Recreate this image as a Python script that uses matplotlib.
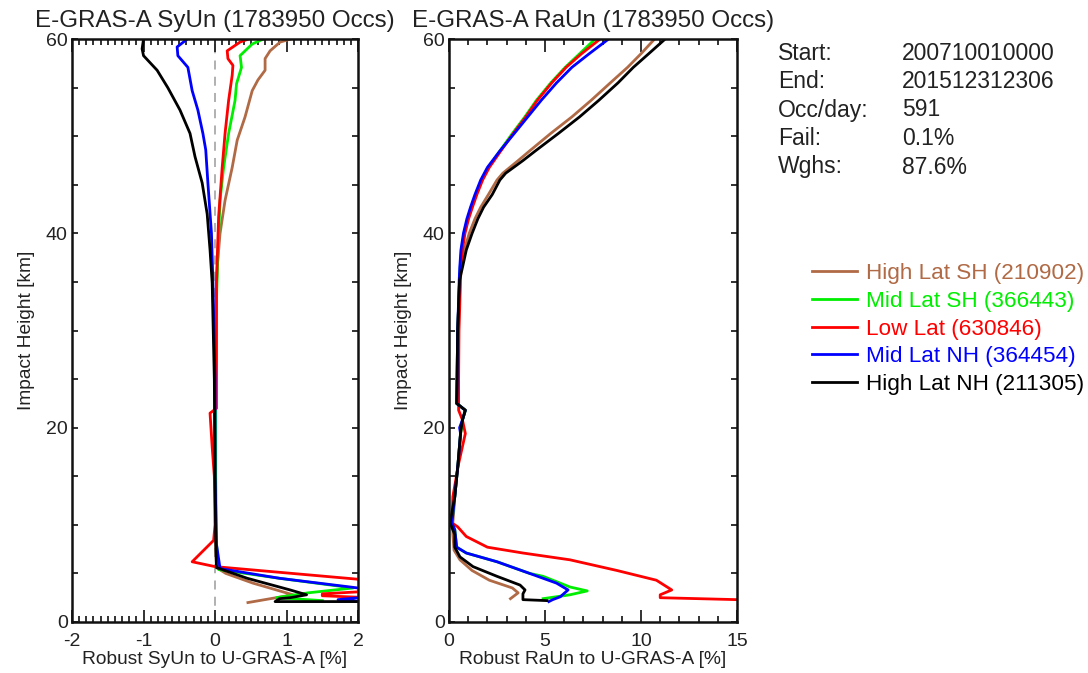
import matplotlib
matplotlib.use("Agg")
import matplotlib.pyplot as plt
from matplotlib.lines import Line2D
from matplotlib.ticker import MultipleLocator

plt.rcParams["font.family"] = ["Liberation Sans", "DejaVu Sans"]
plt.rcParams["axes.unicode_minus"] = False

names = ["High Lat SH", "Mid Lat SH", "Low Lat", "Mid Lat NH", "High Lat NH"]
counts = [210902, 366443, 630846, 364454, 211305]
colors = ["#b06a45", "#00ee00", "#ff0000", "#0000ff", "#000000"]

# SyUn profiles: (height km, value %)
syun_h = {
    "High Lat SH": [2.0, 2.8, 3.1, 4.0, 5.0, 5.6, 8, 15, 25, 33, 36.5, 40, 43.4, 46.8, 49.6, 52, 54.7, 55.8, 56.8, 58, 58.8, 59.7, 60],
    "Mid Lat SH": [2.2, 2.5, 3.0, 3.5, 4.5, 5.4, 8, 15, 25, 33, 38, 43.4, 46.8, 50.3, 53.7, 55.4, 57.1, 58.3, 59.5, 60],
    "Low Lat": [2.4, 2.7, 2.9, 3.5, 4.4, 5.7, 6.2, 8.4, 10, 15, 18, 21.5, 22, 25, 35, 41.7, 46.8, 50.3, 53.7, 56.3, 57.3, 58, 58.8, 59.7, 60],
    "Mid Lat NH": [2.0, 2.3, 2.7, 3.5, 4.5, 5.5, 8, 15, 25, 35, 40, 45.2, 48.6, 50.3, 52.7, 54.7, 57.1, 58.3, 59.2, 60],
    "High Lat NH": [2.1, 2.1, 2.4, 2.5, 2.8, 3.3, 4.5, 5.6, 8, 15, 25, 34.9, 38.3, 42, 45.2, 47.9, 50.3, 52.7, 55, 56.8, 58.3, 59, 60],
}
syun_v = {
    "High Lat SH": [0.46, 1.09, 0.95, 0.53, 0.15, 0.02, 0.01, 0.0, 0.0, 0.01, 0.03, 0.07, 0.14, 0.24, 0.31, 0.42, 0.52, 0.60, 0.70, 0.70, 0.77, 0.91, 1.05],
    "Mid Lat SH": [1.5, 0.86, 1.3, 1.93, 0.9, 0.05, 0.02, 0.01, 0.01, 0.02, 0.04, 0.07, 0.12, 0.19, 0.28, 0.30, 0.37, 0.35, 0.52, 0.67],
    "Low Lat": [2.5, 1.5, 1.5, 3.0, 2.0, 0.0, -0.32, -0.02, 0.0, -0.01, -0.04, -0.07, 0.02, 0.02, 0.02, 0.05, 0.10, 0.14, 0.19, 0.24, 0.25, 0.18, 0.17, 0.35, 0.46],
    "Mid Lat NH": [2.2, 1.72, 2.3, 2.0, 0.9, 0.07, 0.02, 0.0, 0.0, -0.03, -0.05, -0.10, -0.13, -0.17, -0.24, -0.32, -0.38, -0.52, -0.53, -0.39],
    "High Lat NH": [2.5, 0.84, 0.9, 1.05, 1.28, 1.05, 0.45, 0.02, 0.01, 0.0, -0.01, -0.04, -0.07, -0.11, -0.18, -0.28, -0.35, -0.49, -0.66, -0.81, -1.0, -1.02, -1.0],
}

# RaUn profiles: (height km, value %)
upper_h = [22.5, 25, 30, 35.2, 36.5, 38.3, 40, 41.5, 42.7, 44, 45.5, 46.8, 48.5, 50.3, 52, 53.7, 55.5, 57.1, 58.5, 60]
raun_h = {
    "High Lat SH": [2.4, 3.0, 3.5, 4.3, 5.3, 6.4, 7.4, 9, 10.2, 12.9, 16.3, 19.4, 20.8, 21.8,
                    22.5, 25, 30, 35.2, 36.5, 38.3, 40, 41.5, 42.7, 44, 45.5, 46.2, 47.5, 48.5, 50.3, 52, 53.7, 55.5, 57.1, 58.5, 60],
    "Mid Lat SH": [2.4, 2.8, 3.2, 3.6, 4.7, 5.0, 6.2, 7.1, 7.7, 9.5, 10.2, 12.9, 16.3, 19.4, 20.8, 21.8] + upper_h,
    "Low Lat": [2.3, 2.5, 2.8, 3.3, 4.3, 5.3, 6.4, 7.1, 7.7, 8.8, 9.8, 10.2, 12.9, 16.3, 19.4, 20.8, 21.8] + upper_h,
    "Mid Lat NH": [2.1, 2.3, 2.6, 3.3, 4.0, 5.0, 6.2, 7.1, 7.7, 9.5, 10.2, 12.9, 16.3, 19.4, 20.0, 20.8, 21.8] + upper_h,
    "High Lat NH": [2.2, 2.3, 2.9, 3.3, 3.8, 4.7, 5.7, 6.7, 7.7, 9, 10.2, 12.9, 16.3, 19.4, 20.8, 21.8,
                    22.5, 25, 30, 35.2, 36.5, 38.3, 40, 41.5, 42.7, 44, 45.5, 46.2, 47.5, 48.5, 50.3, 52, 53.7, 55.5, 57.1, 58.5, 60],
}
raun_v = {
    "High Lat SH": [3.2, 3.6, 3.3, 2.1, 1.2, 0.57, 0.26, 0.2, 0.2, 0.3, 0.47, 0.6, 0.7, 0.85,
                    0.4, 0.42, 0.45, 0.55, 0.62, 0.8, 1.05, 1.35, 1.65, 2.05, 2.5, 2.8, 3.6, 4.2, 5.3, 6.4, 7.4, 8.4, 9.3, 10.0, 10.7],
    "Mid Lat SH": [4.9, 6.3, 7.2, 6.3, 4.9, 4.2, 2.5, 0.9, 0.4, 0.3, 0.15, 0.3, 0.47, 0.6, 0.7, 0.85,
                   0.4, 0.42, 0.45, 0.55, 0.58, 0.65, 0.78, 0.98, 1.18, 1.4, 1.7, 2.05, 2.65, 3.3, 3.95, 4.55, 5.3, 6.05, 6.8, 7.6],
    "Low Lat": [15.0, 11.0, 11.0, 11.6, 10.8, 8.75, 6.3, 3.85, 2.0, 0.9, 0.45, 0.15, 0.2, 0.5, 0.85, 0.7, 0.5,
                0.5, 0.5, 0.52, 0.6, 0.62, 0.7, 0.83, 1.02, 1.22, 1.45, 1.75, 2.1, 2.7, 3.35, 4.0, 4.6, 5.35, 6.1, 6.9, 7.86],
    "Mid Lat NH": [5.2, 5.4, 5.8, 6.2, 5.6, 4.2, 2.5, 0.9, 0.4, 0.3, 0.15, 0.3, 0.47, 0.6, 0.55, 0.7, 0.85,
                   0.4, 0.42, 0.45, 0.53, 0.56, 0.62, 0.75, 0.93, 1.12, 1.35, 1.65, 2.0, 2.65, 3.4, 4.1, 4.8, 5.6, 6.4, 7.3, 8.3],
    "High Lat NH": [5.1, 3.85, 3.85, 3.96, 3.7, 2.5, 1.25, 0.57, 0.3, 0.3, 0.05, 0.3, 0.47, 0.6, 0.7, 0.85,
                    0.4, 0.42, 0.45, 0.55, 0.7, 0.9, 1.2, 1.5, 1.8, 2.25, 2.65, 2.95, 3.85, 4.5, 5.7, 6.8, 7.8, 8.8, 9.6, 10.4, 11.25],
}

stats_keys = ["Start:", "End:", "Occ/day:", "Fail:", "Wghs:"]
stats_vals = ["200710010000", "201512312306", "591", "0.1%", "87.6%"]

txt = "#222222"

fig = plt.figure(figsize=(10.88, 6.73), dpi=100)
ax1 = fig.add_axes([0.0662, 0.0758, 0.2629, 0.866])
ax2 = fig.add_axes([0.4127, 0.0758, 0.2647, 0.866])

ax1.axvline(0, color="#aaaaaa", lw=1.3, ls=(0, (5, 4)), zorder=1)
for name, c in zip(names, colors):
    ax1.plot(syun_v[name], syun_h[name], color=c, lw=2, zorder=2)
    ax2.plot(raun_v[name], raun_h[name], color=c, lw=2, zorder=2)

ax1.set_xlim(-2, 2)
ax2.set_xlim(0, 15)
for ax in (ax1, ax2):
    ax.set_ylim(0, 60)
    ax.yaxis.set_major_locator(MultipleLocator(20))
    ax.yaxis.set_minor_locator(MultipleLocator(5))
    ax.tick_params(which="both", direction="in", top=True, right=True,
                   width=1.3, colors="#222222", labelsize=14, labelcolor=txt)
    ax.tick_params(axis="x", which="major", length=9, pad=8)
    ax.tick_params(axis="x", which="minor", length=4.5)
    ax.tick_params(axis="y", which="both", length=4, pad=3)
    for s in ax.spines.values():
        s.set_linewidth(1.8)
        s.set_color("#111111")
    ax.set_ylabel("Impact Height [km]", fontsize=13.8, color=txt, labelpad=8)

ax1.xaxis.set_major_locator(MultipleLocator(1))
ax1.xaxis.set_minor_locator(MultipleLocator(0.1))
ax2.xaxis.set_major_locator(MultipleLocator(5))
ax2.xaxis.set_minor_locator(MultipleLocator(1))

ax1.set_xlabel("Robust SyUn to U-GRAS-A [%]", fontsize=13.8, color=txt, labelpad=1)
ax2.set_xlabel("Robust RaUn to U-GRAS-A [%]", fontsize=13.8, color=txt, labelpad=1)
ax1.set_title("E-GRAS-A SyUn (1783950 Occs)", fontsize=17.4, color=txt, pad=9)
ax2.set_title("E-GRAS-A RaUn (1783950 Occs)", fontsize=17.4, color=txt, pad=9)

for i, (k, v) in enumerate(zip(stats_keys, stats_vals)):
    y = 1 - (53 + i * 28.5) / 673
    fig.text(778 / 1088, y, k, fontsize=16.5, color=txt, va="center")
    fig.text(902 / 1088, y, v, fontsize=16.5, color=txt, va="center")

handles = [Line2D([], [], color=c, lw=2) for c in colors]
labels = [f"{n} ({cnt})" for n, cnt in zip(names, counts)]
fig.legend(handles, labels, loc="upper left", bbox_to_anchor=(803 / 1088, 1 - 254 / 673),
           frameon=False, fontsize=16.2, labelcolor="linecolor", handlelength=2.0,
           handletextpad=0.4, labelspacing=0.3, borderaxespad=0)

fig.savefig("out.png", dpi=100)
